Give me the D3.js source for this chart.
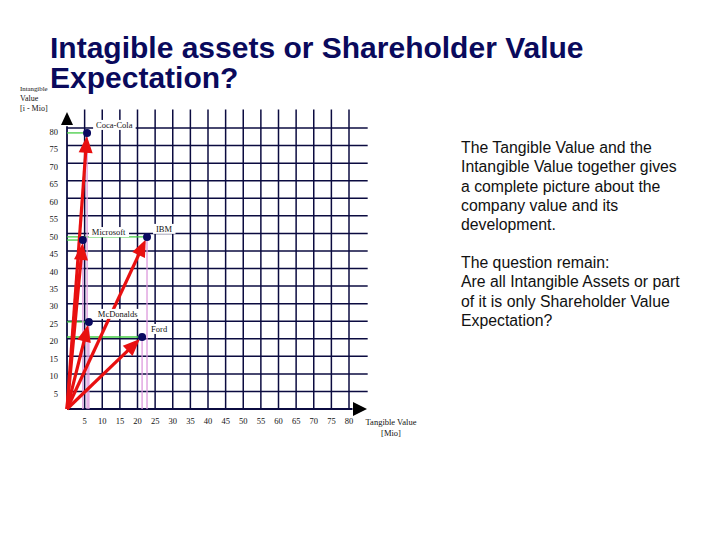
<!DOCTYPE html>
<html>
<head>
<meta charset="utf-8">
<script src="https://cdn.jsdelivr.net/npm/d3@7"></script>
<style>
  body { margin: 0; background: #fff; }
  svg { display: block; }
</style>
</head>
<body>
<script>
// companies and their (tangible, intangible) values in Mio
var companies = ["Coca-Cola", "Microsoft", "IBM", "McDonalds", "Ford"];
var tangible = [5.7, 4.5, 22.7, 6.2, 21.3];
var intangible = [78.6, 48.1, 49.0, 24.8, 20.5];
var tickValues = [5, 10, 15, 20, 25, 30, 35, 40, 45, 50, 55, 60, 65, 70, 75, 80];

var width = 720, height = 540;
var navy = "#0b0b40";

var svg = d3.select("body").append("svg")
  .attr("width", width)
  .attr("height", height);

var x = d3.scaleLinear().domain([0, 80]).range([67, 349]);
var y = d3.scaleLinear().domain([0, 80]).range([409, 128]);

// title
var title = svg.append("text")
  .attr("font-family", "Liberation Sans, Arial, sans-serif")
  .attr("font-weight", "bold")
  .attr("font-size", "30px")
  .attr("fill", "#0a0a5c");
title.append("tspan").attr("x", 50).attr("y", 58).text("Intagible assets or Shareholder Value");
title.append("tspan").attr("x", 50).attr("y", 88).text("Expectation?");

// grid
var grid = svg.append("g").attr("stroke", navy).attr("stroke-width", 1.5);
grid.selectAll("line.h")
  .data(tickValues)
  .enter().append("line")
  .attr("class", "h")
  .attr("x1", x(0)).attr("x2", x(85.3))
  .attr("y1", function(d) { return y(d); })
  .attr("y2", function(d) { return y(d); });
grid.selectAll("line.v")
  .data(tickValues)
  .enter().append("line")
  .attr("class", "v")
  .attr("x1", function(d) { return x(d); })
  .attr("x2", function(d) { return x(d); })
  .attr("y1", y(0)).attr("y2", y(85.3));

// axes
svg.append("line")
  .attr("x1", x(0)).attr("x2", x(0))
  .attr("y1", y(0)).attr("y2", y(80.5))
  .attr("stroke", navy).attr("stroke-width", 1.8);
svg.append("line")
  .attr("x1", x(0)).attr("x2", x(81))
  .attr("y1", y(0)).attr("y2", y(0))
  .attr("stroke", navy).attr("stroke-width", 1.8);
svg.append("path")
  .attr("d", "M" + x(0) + "," + (y(80) - 16) + "L" + (x(0) - 6) + "," + (y(80) - 3) + "L" + (x(0) + 6) + "," + (y(80) - 3) + "Z")
  .attr("fill", "#000");
svg.append("path")
  .attr("d", "M" + (x(80) + 18) + "," + y(0) + "L" + (x(80) + 4) + "," + (y(0) - 7) + "L" + (x(80) + 4) + "," + (y(0) + 7) + "Z")
  .attr("fill", "#000");

// tick labels
var tickFont = "Liberation Serif, Times New Roman, serif";
svg.selectAll("text.yt")
  .data(tickValues)
  .enter().append("text")
  .attr("class", "yt")
  .attr("x", 58)
  .attr("y", function(d) { return y(d) + 5 + (d / 80) * 2; })
  .attr("text-anchor", "end")
  .attr("font-family", tickFont)
  .attr("font-size", "8.5px")
  .attr("fill", "#111")
  .text(function(d) { return d; });
svg.selectAll("text.xt")
  .data(tickValues)
  .enter().append("text")
  .attr("class", "xt")
  .attr("x", function(d) { return x(d); })
  .attr("y", 424)
  .attr("text-anchor", "middle")
  .attr("font-family", tickFont)
  .attr("font-size", "8.5px")
  .attr("fill", "#111")
  .text(function(d) { return d; });

// axis titles
var yTitle = svg.append("text")
  .attr("font-family", tickFont)
  .attr("font-size", "8px")
  .attr("fill", "#111");
yTitle.append("tspan").attr("x", 20).attr("y", 91)
  .attr("font-size", "6.8px").text("Intangible");
yTitle.append("tspan").attr("x", 20).attr("y", 101).text("Value");
yTitle.append("tspan").attr("x", 20).attr("y", 111).text("[i - Mio]");

var xTitle = svg.append("text")
  .attr("font-family", tickFont)
  .attr("font-size", "8.5px")
  .attr("fill", "#111")
  .attr("text-anchor", "middle");
xTitle.append("tspan").attr("x", 391).attr("y", 425).text("Tangible Value");
xTitle.append("tspan").attr("x", 391).attr("y", 436).text("[Mio]");

var data = companies.map(function(c, i) {
  return { name: c, tx: tangible[i], iv: intangible[i] };
});

// green guide lines to the y axis
svg.selectAll("line.g")
  .data(data)
  .enter().append("line")
  .attr("x1", x(0))
  .attr("x2", function(d) { return x(d.tx); })
  .attr("y1", function(d) { return y(d.iv); })
  .attr("y2", function(d) { return y(d.iv); })
  .attr("stroke", "#44cc44").attr("stroke-width", 1.3);

// pink guide lines to the x axis
svg.selectAll("line.p")
  .data(data)
  .enter().append("line")
  .attr("x1", function(d) { return x(d.tx); })
  .attr("x2", function(d) { return x(d.tx); })
  .attr("y1", function(d) { return y(d.iv); })
  .attr("y2", y(0))
  .attr("stroke", "#dd99dd").attr("stroke-width", 1.3);

// red arrows from origin
var red = "#e81010";
var arrows = svg.append("g");
data.forEach(function(d) {
  var x0 = x(0), y0 = y(0);
  var x1 = x(d.tx), y1 = y(d.iv);
  var dx = x1 - x0, dy = y1 - y0;
  var len = Math.sqrt(dx * dx + dy * dy);
  var ux = dx / len, uy = dy / len;
  var tipX = x1 - ux * 3, tipY = y1 - uy * 3;
  var head = 17, half = 7;
  var bx = tipX - ux * head, by = tipY - uy * head;
  arrows.append("line")
    .attr("x1", x0).attr("y1", y0)
    .attr("x2", bx + ux * 2).attr("y2", by + uy * 2)
    .attr("stroke", red).attr("stroke-width", 3.2);
  arrows.append("path")
    .attr("d", "M" + tipX + "," + tipY +
      "L" + (bx - uy * half) + "," + (by + ux * half) +
      "L" + (bx + uy * half) + "," + (by - ux * half) + "Z")
    .attr("fill", red);
});

// points
svg.selectAll("circle")
  .data(data)
  .enter().append("circle")
  .attr("cx", function(d) { return x(d.tx); })
  .attr("cy", function(d) { return y(d.iv); })
  .attr("r", 4)
  .attr("fill", "#0a0a60");

// labels with white boxes
var labels = svg.selectAll("g.lab")
  .data(data)
  .enter().append("g")
  .attr("class", "lab")
  .attr("transform", function(d) {
    return "translate(" + (x(d.tx) + 9) + "," + (y(d.iv) - 5) + ")";
  });
labels.append("text")
  .attr("font-family", tickFont)
  .attr("font-size", "8.5px")
  .attr("fill", "#111")
  .text(function(d) { return d.name; });
labels.each(function() {
  var g = d3.select(this);
  var bb = g.select("text").node().getBBox();
  g.insert("rect", "text")
    .attr("x", bb.x - 3).attr("y", bb.y)
    .attr("width", bb.width + 6).attr("height", bb.height)
    .attr("fill", "#fff");
});

// side text
var textFont = "Liberation Sans, Arial, sans-serif";
var para1 = ["The Tangible Value and the", "Intangible Value together gives",
  "a complete picture about the", "company value and its", "development."];
var para2 = ["The question remain:", "Are all Intangible Assets or part",
  "of it is only Shareholder Value", "Expectation?"];
svg.append("g").selectAll("text")
  .data(para1)
  .enter().append("text")
  .attr("x", 461)
  .attr("y", function(d, i) { return 153 + i * 19.3; })
  .attr("font-family", textFont)
  .attr("font-size", "15.8px")
  .attr("fill", "#111")
  .text(function(d) { return d; });
svg.append("g").selectAll("text")
  .data(para2)
  .enter().append("text")
  .attr("x", 461)
  .attr("y", function(d, i) { return 268 + i * 19.3; })
  .attr("font-family", textFont)
  .attr("font-size", "15.8px")
  .attr("fill", "#111")
  .text(function(d) { return d; });
</script>
</body>
</html>
